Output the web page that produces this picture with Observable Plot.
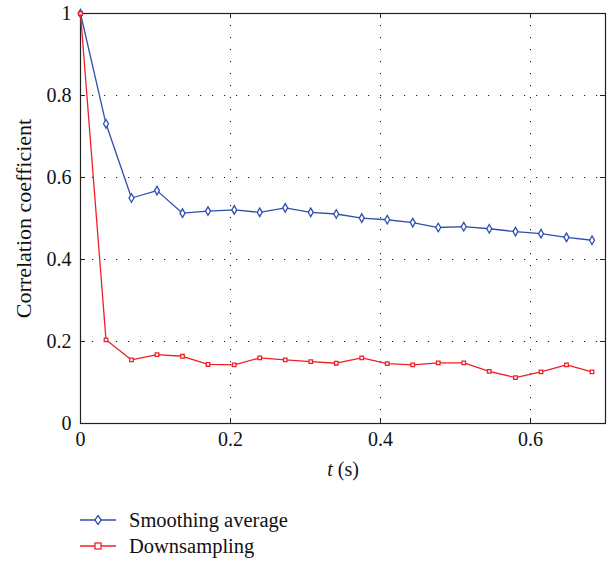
<!DOCTYPE html>
<html><head><meta charset="utf-8">
<script src="https://cdn.jsdelivr.net/npm/d3@7"></script>
<script src="https://cdn.jsdelivr.net/npm/@observablehq/plot@0.6"></script>
<style>
body{margin:0;background:#fff;font-family:'Liberation Serif','Times New Roman',Times,'DejaVu Serif',serif;}
#legend{margin-top:12px;margin-left:80px;font-size:20.5px;color:#111;}
.row{display:flex;align-items:center;height:26px;}
.row svg{margin-right:13px;}
svg text{font-family:'Liberation Serif','Times New Roman',Times,'DejaVu Serif',serif;}
</style>
</head><body>
<div id="chart"></div>
<div id="legend"></div>
<script>
const time = [0, 0.034, 0.068, 0.102, 0.136, 0.170, 0.205, 0.239, 0.273, 0.307, 0.341, 0.375, 0.409, 0.443, 0.477, 0.511, 0.545, 0.580, 0.614, 0.648, 0.682];
const smoothing = [1, 0.731, 0.550, 0.568, 0.513, 0.518, 0.521, 0.515, 0.526, 0.515, 0.511, 0.501, 0.497, 0.490, 0.478, 0.480, 0.475, 0.468, 0.463, 0.454, 0.447];
const downsampling = [1, 0.204, 0.155, 0.168, 0.164, 0.144, 0.143, 0.160, 0.155, 0.151, 0.147, 0.160, 0.146, 0.143, 0.148, 0.148, 0.127, 0.112, 0.126, 0.143, 0.126];
const seriesNames = ["Smoothing average", "Downsampling"];
const xTicks = [0, 0.2, 0.4, 0.6];
const yTicks = [0, 0.2, 0.4, 0.6, 0.8, 1];
const xGrid = [0.2, 0.4, 0.6];
const yGrid = [0.2, 0.4, 0.6, 0.8];

const blue = "#2f4fae", red = "#ee2027";
const W = 613, H = 495, mL = 80, mR = 8, mT = 13, mB = 72;
const fw = W - mL - mR, fh = H - mT - mB;
const FONT = "'Liberation Serif','Times New Roman',Times,'DejaVu Serif',serif";

const sData = time.map((t, i) => ({t, v: smoothing[i]}));
const dData = time.map((t, i) => ({t, v: downsampling[i]}));
const fmt = d => String(d);

const chart = Plot.plot({
  width: W, height: H,
  marginLeft: mL, marginRight: mR, marginTop: mT, marginBottom: mB,
  style: {fontFamily: FONT, fontSize: "20px", color: "#111", background: "#fff"},
  x: {domain: [0, 0.7]},
  y: {domain: [0, 1]},
  marks: [
    Plot.gridX(xGrid, {stroke: "#000", strokeOpacity: 0.9, strokeDasharray: "1.2,10.8"}),
    Plot.gridY(yGrid, {stroke: "#000", strokeOpacity: 0.9, strokeDasharray: "1.2,10.8"}),
    Plot.frame({stroke: "#222", strokeWidth: 1.2}),
    Plot.tickX(xTicks, {x: d => d, insetTop: fh - 5, stroke: "#222"}),
    Plot.tickX(xTicks, {x: d => d, insetBottom: fh - 5, stroke: "#222"}),
    Plot.tickY(yTicks, {y: d => d, insetRight: fw - 5, stroke: "#222"}),
    Plot.tickY(yTicks, {y: d => d, insetLeft: fw - 5, stroke: "#222"}),
    Plot.axisX({ticks: xTicks, tickSize: 0, tickPadding: 8, tickFormat: fmt, label: "t (s)", labelAnchor: "center", labelOffset: 52, labelArrow: false}),
    Plot.axisY({ticks: yTicks, tickSize: 0, tickPadding: 9, tickFormat: fmt, label: "Correlation coefficient", labelAnchor: "center", labelOffset: 65, labelArrow: false}),
    Plot.line(sData, {x: "t", y: "v", stroke: blue, strokeWidth: 1.3}),
    Plot.dot(sData, {x: "t", y: "v", symbol: "diamond", r: 2.6, stroke: blue, fill: "#fff", strokeWidth: 1.3}),
    Plot.line(dData, {x: "t", y: "v", stroke: red, strokeWidth: 1.3}),
    Plot.dot(dData, {x: "t", y: "v", symbol: "square", r: 2.0, stroke: red, fill: "#fff", strokeWidth: 1.3})
  ]
});
document.getElementById("chart").appendChild(chart);

// italic t in x label
const lab = chart.querySelector('g[aria-label="x-axis label"] text');
if (lab) {
  lab.textContent = "";
  const ns = "http://www.w3.org/2000/svg";
  const ts = document.createElementNS(ns, "tspan");
  ts.setAttribute("font-style", "italic");
  ts.textContent = "t";
  lab.appendChild(ts);
  lab.appendChild(document.createTextNode(" (s)"));
}
const ylab = chart.querySelector('g[aria-label="y-axis label"] text');
if (ylab) ylab.setAttribute("font-size", "22px");

// legend
const legend = document.getElementById("legend");
const sym = [
  (c) => `<path d="M18,2.5L21.2,7L18,11.5L14.8,7Z" fill="#fff" stroke="${c}" stroke-width="1.3"/>`,
  (c) => `<rect x="15" y="4" width="6" height="6" fill="#fff" stroke="${c}" stroke-width="1.3"/>`
];
[blue, red].forEach((c, i) => {
  const row = document.createElement("div");
  row.className = "row";
  row.innerHTML = `<svg width="36" height="14"><line x1="0" x2="36" y1="7" y2="7" stroke="${c}" stroke-width="1.3"/>${sym[i](c)}</svg><span>${seriesNames[i]}</span>`;
  legend.appendChild(row);
});
</script>
</body></html>
